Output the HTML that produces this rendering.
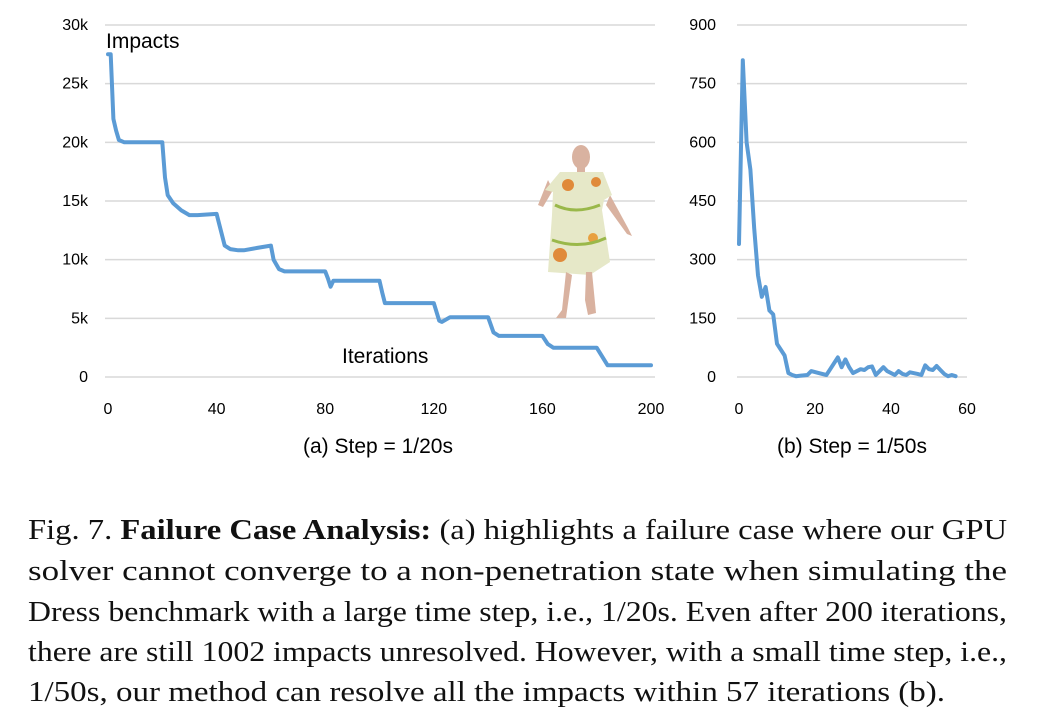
<!DOCTYPE html>
<html><head><meta charset="utf-8"><style>
body{margin:0;background:#fff;}
svg{display:block;font-family:"Liberation Sans",sans-serif;}
</style></head><body>
<svg width="1042" height="725" viewBox="0 0 1042 725">
<g id="left"></g>
<g id="right"></g>
<g>
  <ellipse cx="581" cy="157" rx="9" ry="12" fill="#d9b2a0"/>
  <rect x="577" y="167" width="8" height="8" fill="#d9b2a0"/>
  <path d="M548 180 L538 205 L543 207 L553 190 Z" fill="#d9b2a0"/>
  <path d="M610 195 L628 228 L632 236 L627 234 L606 205 Z" fill="#d9b2a0"/>
  <path d="M560 172 L603 172 L612 195 L604 200 L602 210 L610 262 L590 275 L548 272 L552 215 L553 192 L545 190 Z" fill="#e6e8c8"/>
  <circle cx="568" cy="185" r="6" fill="#e08a3a"/>
  <circle cx="596" cy="182" r="5" fill="#e08a3a"/>
  <circle cx="560" cy="255" r="7" fill="#e08a3a"/>
  <circle cx="593" cy="238" r="5" fill="#e8a040"/>
  <path d="M555 205 Q575 215 600 205 M552 240 Q580 250 606 238" stroke="#9ab84a" stroke-width="3" fill="none"/>
  <path d="M566 272 L562 310 L556 318 L566 318 L572 275 Z M586 272 L585 300 L588 315 L596 313 L592 272 Z" fill="#d9b2a0"/>
</g>
<text x="106" y="48" font-size="21" fill="#000">Impacts</text>
<text x="342" y="363" font-size="21" fill="#000">Iterations</text>
<text x="378" y="453" font-size="21" text-anchor="middle">(a) Step = 1/20s</text>
<text x="852" y="453" font-size="21" text-anchor="middle">(b) Step = 1/50s</text>
<g font-family="Liberation Serif, serif" font-size="28" fill="#111">
<text x="28" y="539" textLength="979" lengthAdjust="spacingAndGlyphs">Fig. 7.  <tspan font-weight="bold">Failure Case Analysis:</tspan> (a) highlights a failure case where our GPU</text>
<text x="28" y="580" textLength="979" lengthAdjust="spacingAndGlyphs">solver cannot converge to a non-penetration state when simulating the</text>
<text x="28" y="621" textLength="979" lengthAdjust="spacingAndGlyphs">Dress benchmark with a large time step, i.e., 1/20s. Even after 200 iterations,</text>
<text x="28" y="661" textLength="979" lengthAdjust="spacingAndGlyphs">there are still 1002 impacts unresolved. However, with a small time step, i.e.,</text>
<text x="28" y="701" textLength="917" lengthAdjust="spacingAndGlyphs">1/50s, our method can resolve all the impacts within 57 iterations (b).</text>
</g>
</svg>
<script>
const aX=[0,1,2,3,4,6,20,21,22,24,27,30,33,40,41,43,45,48,50,55,60,61,63,65,80,81,82,83,100,101,102,104,120,122,123,126,140,142,144,160,162,164,180,184,200];
const aY=[27500,27500,22000,21000,20200,20000,20000,17000,15500,14800,14200,13800,13800,13900,13000,11200,10900,10800,10800,11000,11200,10000,9200,9000,9000,8400,7700,8200,8200,7200,6300,6300,6300,4800,4700,5100,5100,3800,3500,3500,2800,2500,2500,1000,1000];
const aYTicks=[0,5000,10000,15000,20000,25000,30000];
const aYLabels=["0","5k","10k","15k","20k","25k","30k"];
const aXTicks=[0,40,80,120,160,200];
const bX=[0,1,2,3,4,5,6,7,8,9,10,11,12,13,14,15,16,18,19,21,23,24,25,26,27,28,29,30,32,33,34,35,36,38,39,41,42,43,44,45,47,48,49,50,51,52,53,54,55,56,57];
const bY=[340,810,600,530,380,260,205,230,170,160,85,70,55,10,5,2,3,5,15,10,5,20,35,50,25,45,25,10,20,18,25,27,5,25,15,5,15,8,5,12,8,5,30,20,18,28,18,8,2,5,2];
const bYTicks=[0,150,300,450,600,750,900];
const bXTicks=[0,20,40,60];
const NS="http://www.w3.org/2000/svg";
function mk(p,t,a){const e=document.createElementNS(NS,t);for(const k in a)e.setAttribute(k,a[k]);p.appendChild(e);return e;}
function draw(g,X,Y,yT,yL,xT,xMax,yMax,x0,x1,gx0,gx1,ylabX,anchor){
  const sx=v=>x0+(x1-x0)*v/xMax, sy=v=>377-352*v/yMax;
  yT.forEach((t,i)=>{
    const l=mk(g,'line',{x1:gx0,x2:gx1,y1:sy(t),y2:sy(t),stroke:'#d9d9d9','stroke-width':1.5});
    
    
    const tx=mk(g,'text',{x:ylabX,y:sy(t)+5,'font-size':16,'text-anchor':anchor});
    tx.textContent=yL[i];
    
    
  });
  xT.forEach(t=>{
    const tx=mk(g,'text',{x:sx(t),y:414,'font-size':16,'text-anchor':'middle'});
    tx.textContent=t;
    
    
  });
  const pts=X.map((x,i)=>sx(x).toFixed(1)+','+sy(Y[i]).toFixed(1)).join(' ');
  const pl=mk(g,'polyline',{points:pts,fill:'none',stroke:'#5b9bd5','stroke-width':4,'stroke-linejoin':'round','stroke-linecap':'round'});
  
  
}
draw(document.getElementById('left'),aX,aY,aYTicks,aYLabels,aXTicks,200,30000,108,651,105,655,88,'end');
draw(document.getElementById('right'),bX,bY,bYTicks,bYTicks.map(String),bXTicks,60,900,739,967,737,967,716,'end');
</script>
</body></html>
